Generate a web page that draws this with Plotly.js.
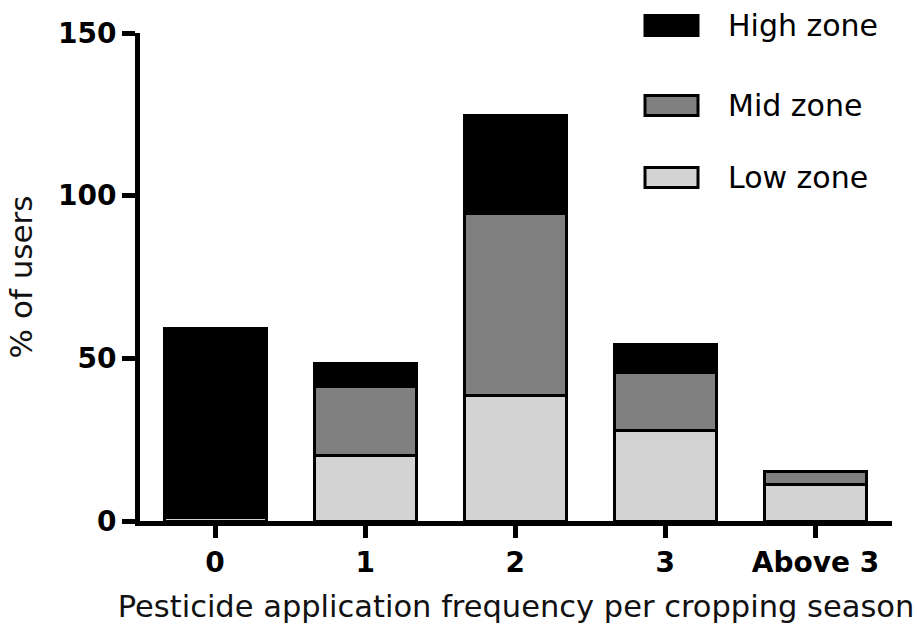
<!DOCTYPE html>
<html>
<head>
<meta charset="utf-8">
<script src="https://cdn.plot.ly/plotly-3.0.1.min.js"></script>
<style>html,body{margin:0;padding:0;background:#fff;}#chart{width:917px;height:625px;}</style>
</head>
<body>
<div id="chart"></div>
<script>
const categories = ['0', '1', '2', '3', 'Above 3'];
const lowZone  = [1, 20.1, 38.6, 27.8, 11.2];
const midZone  = [0, 21.1, 55.9, 17.8, 4.0];
const highZone = [58.3, 7.2, 30.1, 8.7, 0];
const seriesNames = ['Low zone', 'Mid zone', 'High zone'];
const seriesColors = ['#d3d3d3', '#808080', '#000000'];
const yTickVals = [0, 50, 100, 150];

const seriesValues = [lowZone, midZone, highZone];
const traces = seriesValues.map((vals, i) => ({
  type: 'bar',
  name: seriesNames[i],
  x: categories,
  y: vals,
  width: 0.68,
  marker: {color: seriesColors[i], line: {color: '#000', width: 3}},
  showlegend: false,
  hoverinfo: 'skip'
}));

// plot area in pixels (for placing the custom legend)
const W = 917, H = 625;
const M = {l: 140, r: 25, t: 33, b: 104};
const pw = W - M.l - M.r, ph = H - M.t - M.b;
const px2x = p => (p - M.l) / pw;
const py2y = p => (H - M.b - p) / ph;

// legend: High on top, then Mid, then Low
const legendOrder = [2, 1, 0];
const legendRowsY = [25.5, 105.5, 177.5];
const shapes = [];
const annotations = [];
legendOrder.forEach((si, k) => {
  const cy = legendRowsY[k];
  shapes.push({
    type: 'rect', xref: 'paper', yref: 'paper',
    x0: px2x(645), x1: px2x(698), y0: py2y(cy + 10), y1: py2y(cy - 10),
    fillcolor: seriesColors[si], line: {color: '#000', width: 3}
  });
  annotations.push({
    xref: 'paper', yref: 'paper', x: px2x(726), y: py2y(cy),
    xanchor: 'left', yanchor: 'middle', showarrow: false,
    text: seriesNames[si],
    font: {family: 'DejaVu Sans', size: 30, color: '#000'}
  });
});

const layout = {
  width: W, height: H,
  margin: M,
  barmode: 'stack',
  paper_bgcolor: '#fff', plot_bgcolor: '#fff',
  showlegend: false,
  xaxis: {
    type: 'category',
    range: [-0.5, 4.51],
    showline: true, linecolor: '#000', linewidth: 5,
    ticks: 'outside', ticklen: 12, tickwidth: 5, tickcolor: '#000',
    showgrid: false, zeroline: false,
    tickfont: {family: 'DejaVu Sans', size: 28, weight: 'bold', color: '#000'},
    title: {text: 'Pesticide application frequency per cropping season',
            font: {family: 'DejaVu Sans', size: 30.5, color: '#111'}, standoff: 20}
  },
  yaxis: {
    range: [0, 150],
    tickvals: yTickVals,
    showline: true, linecolor: '#000', linewidth: 5,
    ticks: 'outside', ticklen: 13, tickwidth: 5, tickcolor: '#000',
    showgrid: false, zeroline: false,
    tickfont: {family: 'DejaVu Sans', size: 28, weight: 'bold', color: '#000'},
    title: {text: '% of users',
            font: {family: 'DejaVu Sans', size: 31, color: '#111'}, standoff: 18}
  },
  shapes: shapes,
  annotations: annotations
};

Plotly.newPlot('chart', traces, layout, {staticPlot: true, displayModeBar: false});
</script>
</body>
</html>
